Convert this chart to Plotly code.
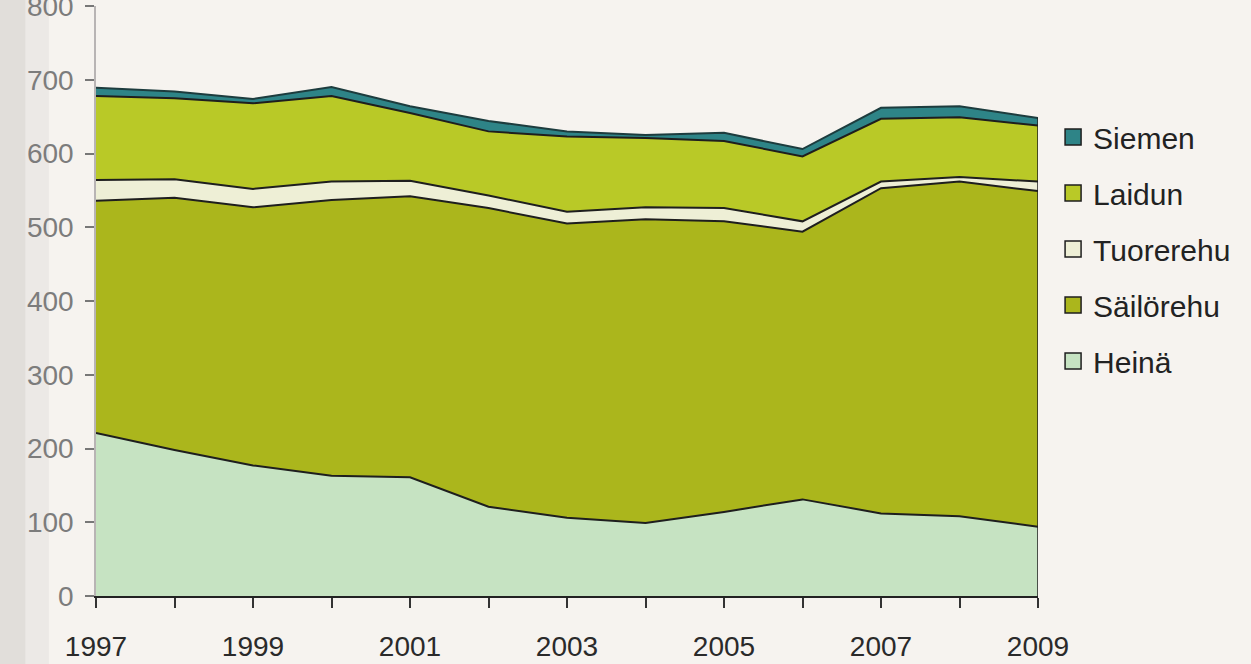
import plotly.graph_objects as go

years = list(range(1997, 2010))
year_labels = [str(y) if y % 2 == 1 else "" for y in years]

# thousand hectares per crop, bottom of stack first
heina = [221, 198, 177, 163, 161, 121, 106, 99, 114, 131, 112, 108, 94]
sailorehu = [315, 342, 350, 374, 381, 405, 399, 412, 394, 363, 441, 454, 455]
tuorerehu = [28, 25, 25, 25, 21, 17, 16, 16, 18, 14, 9, 6, 13]
laidun = [114, 110, 116, 116, 92, 87, 102, 94, 91, 88, 85, 81, 76]
siemen = [11, 9, 6, 12, 9, 14, 7, 4, 11, 10, 15, 15, 10]

y_ticks = list(range(0, 900, 100))

_BG = "#f6f3ef"
_FONT = "Liberation Sans, Arial, sans-serif"

series = [
    ("Heinä", heina, "#c6e3c2", "#1e1e1e"),
    ("Säilörehu", sailorehu, "#abb61c", "#1e1e1e"),
    ("Tuorerehu", tuorerehu, "#eeefd6", "#1e1e1e"),
    ("Laidun", laidun, "#b9c927", "#1e1e1e"),
    ("Siemen", siemen, "#2e8487", "#1d3c3e"),
]

fig = go.Figure()
for name, vals, fill, edge in series:
    fig.add_scatter(
        x=years,
        y=vals,
        name=name,
        stackgroup="one",
        fillcolor=fill,
        line={"color": edge, "width": 2},
        mode="lines",
        showlegend=False,
    )

# closing edge on the right side of the stack
total_last = sum(s[1][-1] for s in series)
fig.add_scatter(
    x=[years[-1], years[-1]],
    y=[0, total_last],
    mode="lines",
    line={"color": "#1e1e1e", "width": 1.5},
    showlegend=False,
    hoverinfo="skip",
)

# legend entries as square swatches, top of stack first
for name, vals, fill, edge in reversed(series):
    fig.add_scatter(
        x=[None],
        y=[None],
        name=name,
        mode="markers",
        legendgroup=name,
        marker={"symbol": "square", "size": 17, "color": fill, "line": {"color": "#1e1e1e", "width": 1.5}},
    )

fig.update_layout(
    width=1251,
    height=664,
    paper_bgcolor=_BG,
    plot_bgcolor=_BG,
    margin={"l": 96, "r": 213, "t": 6, "b": 68, "autoexpand": False},
    showlegend=True,
    legend={
        "x": 1.016,
        "y": 0.822,
        "xanchor": "left",
        "yanchor": "top",
        "font": {"family": _FONT, "size": 30, "color": "#222222"},
        "tracegroupgap": 14,
        "itemsizing": "trace",
        "bgcolor": "rgba(0,0,0,0)",
    },
    shapes=[
        {"type": "rect", "xref": "paper", "yref": "paper", "x0": -0.102, "x1": -0.075, "y0": -0.2, "y1": 1.05,
         "fillcolor": "rgba(120,115,115,0.16)", "line": {"width": 0}, "layer": "below"},
        {"type": "rect", "xref": "paper", "yref": "paper", "x0": -0.075, "x1": -0.05, "y0": -0.2, "y1": 1.05,
         "fillcolor": "rgba(120,115,115,0.07)", "line": {"width": 0}, "layer": "below"},
    ],
)
fig.update_xaxes(
    range=[years[0], years[-1]],
    tickmode="array",
    tickvals=years,
    ticktext=year_labels,
    ticks="outside",
    ticklen=10,
    tickwidth=1.5,
    tickcolor="#333333",
    ticklabelstandoff=14,
    showline=True,
    linecolor="#222222",
    linewidth=2,
    showgrid=False,
    zeroline=False,
    automargin=False,
    tickfont={"family": _FONT, "size": 28, "color": "#2a2a2a"},
)
fig.update_yaxes(
    range=[0, 800],
    tickvals=y_ticks,
    ticks="outside",
    ticklen=9,
    tickwidth=1.5,
    tickcolor="#777777",
    ticklabelstandoff=6,
    ticklabeloverflow="allow",
    showline=True,
    linecolor="#b8b4b4",
    linewidth=1.5,
    showgrid=False,
    zeroline=False,
    automargin=False,
    tickfont={"family": _FONT, "size": 28, "color": "#7c7c7c"},
)

fig.write_html(
    "out.html",
    config={"displayModeBar": False},
    post_script="document.body.style.margin = '0';",
)
